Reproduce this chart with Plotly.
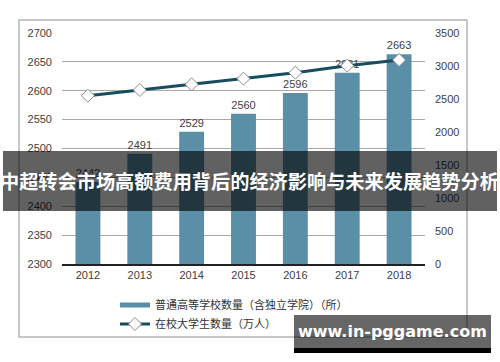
import plotly.graph_objects as go

years = ["2012", "2013", "2014", "2015", "2016", "2017", "2018"]
schools = [2442, 2491, 2529, 2560, 2596, 2631, 2663]
students = [2550, 2636, 2722, 2808, 2899, 3005, 3091]
bar_name = "普通高等学校数量（含独立学院）（所）"
line_name = "在校大学生数量（万人）"
left_ticks = [2300, 2350, 2400, 2450, 2500, 2550, 2600, 2650, 2700]
right_ticks = [0, 500, 1000, 1500, 2000, 2500, 3000, 3500]
title_text = "中超转会市场高额费用背后的经济影响与未来发展趋势分析"
watermark = "www.in-pggame.com"

BAR = "#5a8fa7"
LINE = "#174d5f"
TXT = "#404040"
FONT = "Liberation Sans, Arial, Noto Sans CJK SC"
CJK = "Noto Sans CJK SC"

fig = go.Figure()
fig.add_trace(go.Bar(
    x=years, y=schools, marker=dict(color=BAR, line=dict(width=0)),
    text=[str(v) for v in schools], textposition="outside",
    textfont=dict(size=11, color=TXT, family=FONT),
    cliponaxis=False, showlegend=False, name=bar_name))
# legend proxy for the bars
fig.add_trace(go.Scatter(
    x=[None], y=[None], mode="lines", line=dict(color=BAR, width=5),
    name=bar_name, showlegend=True))
fig.add_trace(go.Scatter(
    x=years, y=students, yaxis="y2", mode="lines+markers",
    line=dict(color=LINE, width=3),
    marker=dict(symbol="diamond", size=10, color="white",
                line=dict(color="#8a8a8a", width=1)),
    name=line_name, cliponaxis=False))

fig.update_layout(
    width=500, height=362,
    margin=dict(l=62, r=75, t=33, b=98, autoexpand=False),
    paper_bgcolor="white", plot_bgcolor="white",
    bargap=0.52,
    font=dict(family=FONT, size=11, color=TXT),
    xaxis=dict(showgrid=False, showline=True, linecolor="#222222", linewidth=1.5,
               ticks="", tickfont=dict(size=11, color=TXT), fixedrange=True,
               automargin=False),
    yaxis=dict(range=[2300, 2700], tickvals=left_ticks, showgrid=True,
               gridcolor="#a8a8a8", gridwidth=1, zeroline=False, showline=False,
               ticks="", ticklabelstandoff=9, tickfont=dict(size=11, color=TXT),
               automargin=False),
    yaxis2=dict(range=[0, 3500], tickvals=right_ticks, overlaying="y", side="right",
                showgrid=False, zeroline=False, showline=False, ticks="",
                ticklabelstandoff=9, tickfont=dict(size=11, color=TXT),
                automargin=False),
    legend=dict(x=(115 - 62) / 363, y=(264 - 290.5) / 231, xanchor="left", yanchor="top",
                orientation="v", bgcolor="rgba(0,0,0,0)", tracegroupgap=0,
                font=dict(family=CJK, size=11, color="#333333"), traceorder="normal"),
)

def px_x(p):
    return (p - 62) / 363

def px_y(p):
    return (264 - p) / 231

shapes = [
    # outer frame
    dict(type="rect", xref="paper", yref="paper", x0=px_x(19), x1=px_x(467),
         y0=px_y(20), y1=px_y(337), line=dict(color="#b5b5b5", width=1.5),
         fillcolor="rgba(0,0,0,0)", layer="above"),
    # title band
    dict(type="rect", xref="paper", yref="paper", x0=px_x(3), x1=px_x(497),
         y0=px_y(151), y1=px_y(211), line=dict(width=0),
         fillcolor="rgba(0,0,0,0.62)", layer="above"),
    # watermark box
    dict(type="rect", xref="paper", yref="paper", x0=px_x(294), x1=px_x(491),
         y0=px_y(315), y1=px_y(348), line=dict(width=0),
         fillcolor="rgba(0,0,0,0.6)", layer="above"),
    dict(type="rect", xref="paper", yref="paper", x0=px_x(294), x1=px_x(491),
         y0=px_y(348), y1=px_y(353), line=dict(width=0),
         fillcolor="black", layer="above"),
]
fig.update_layout(shapes=shapes)

fig.add_annotation(text=title_text, xref="paper", yref="paper",
                   x=px_x(249), y=px_y(181), xanchor="center", yanchor="middle",
                   showarrow=False, font=dict(family=CJK, size=19.2, color="white", weight="bold"))
fig.add_annotation(text=watermark, xref="paper", yref="paper",
                   x=px_x(392), y=px_y(331), xanchor="center", yanchor="middle",
                   showarrow=False, font=dict(family="DejaVu Sans", size=16, color="white", weight="bold"))

fig.write_html("out.html", config={"displayModeBar": False},
               post_script="document.body.style.margin='0';document.body.style.padding='0';")
